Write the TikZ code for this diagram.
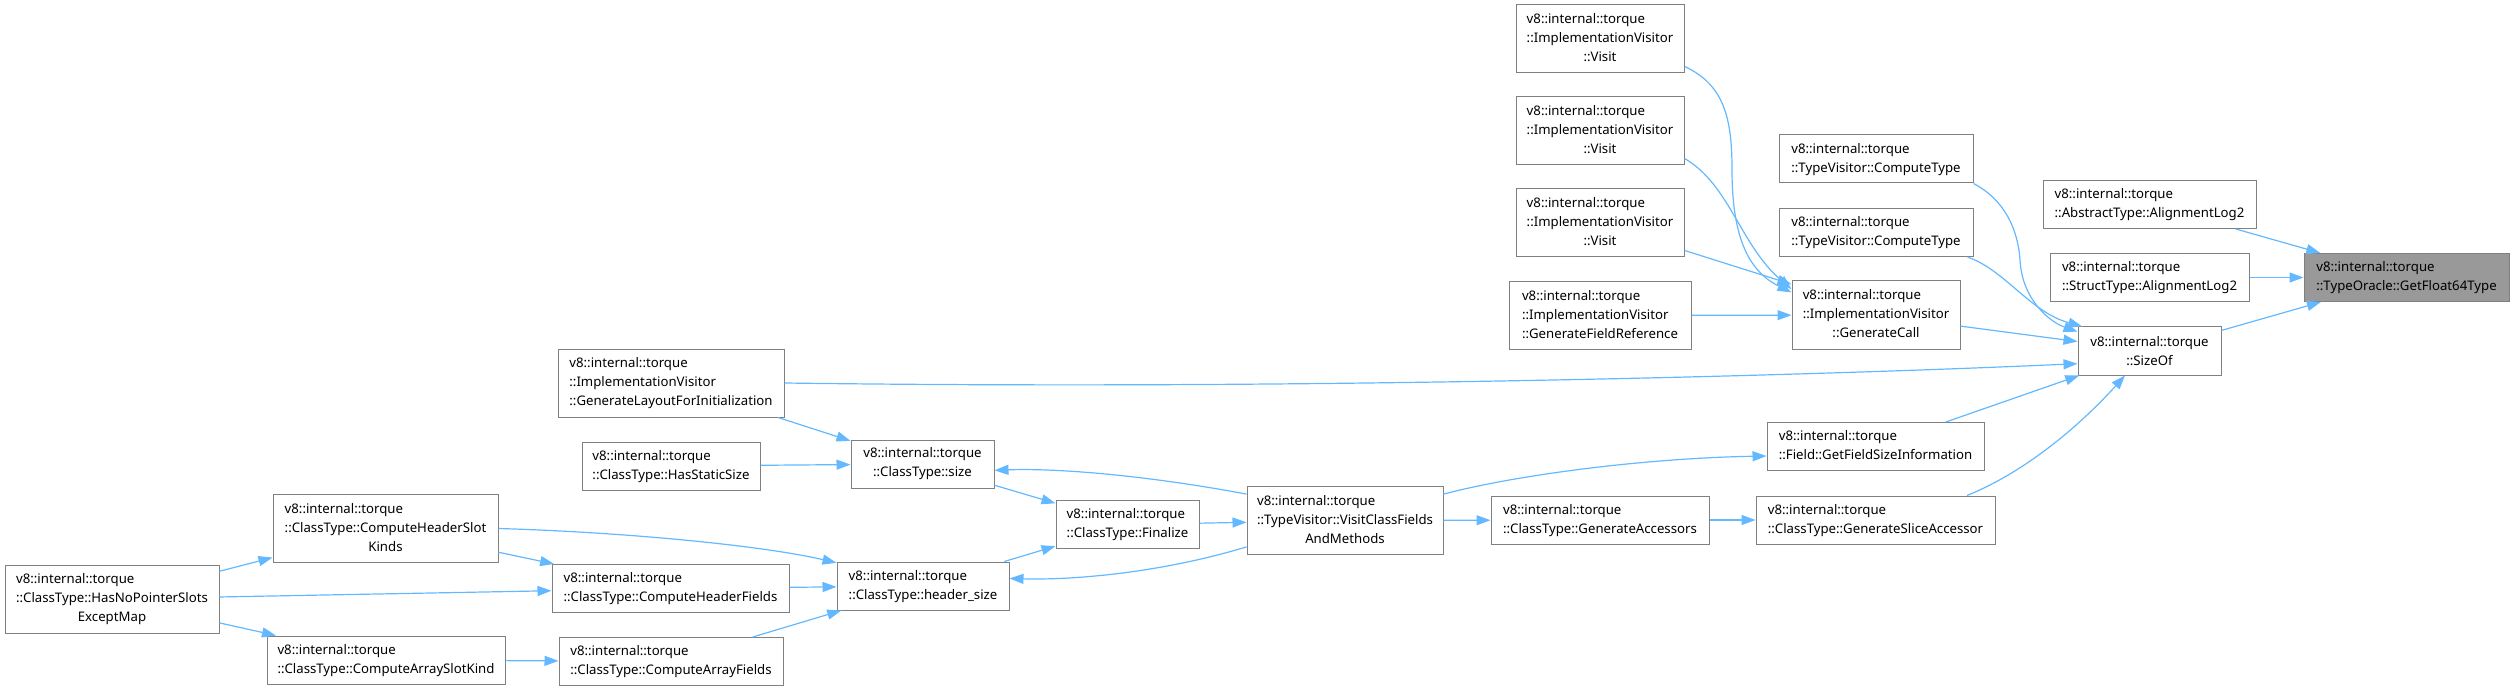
\documentclass[tikz,border=0pt]{standalone}
\usepackage{fontspec}
\setmainfont{Noto Sans}
\usetikzlibrary{arrows.meta}

\definecolor{edgeblue}{HTML}{63B8FF}
\definecolor{boxgray}{HTML}{808080}
\definecolor{rootgray}{HTML}{999999}

\newcommand{\fnbox}[1]{\begin{tabular}{@{}l@{}}#1\end{tabular}}
\newcommand{\midline}[1]{\multicolumn{1}{@{}c@{}}{#1}}

\begin{document}
\begin{tikzpicture}[x=1pt, y=-1pt,
    fn/.style={draw=boxgray, line width=1pt, fill=white, inner sep=0pt,
        minimum height=48pt, font=\fontsize{13.2}{19}\selectfont},
    tall/.style={minimum height=68pt},
    root/.style={fill=rootgray},
    call/.style={draw=edgeblue, line width=1.2pt,
        -{Triangle[length=14pt,width=10pt]}}]
    \useasboundingbox (0,0) rectangle (2515,692);

    % Root and its direct callers
    \node[fn, root, minimum width=205pt] (float64) at (2406.5,277.5)
        {\fnbox{v8::internal::torque\\::TypeOracle::GetFloat64Type}};
    \node[fn, minimum width=213pt] (abslog) at (2149.5,204.5)
        {\fnbox{v8::internal::torque\\::AbstractType::AlignmentLog2}};
    \node[fn, minimum width=199pt] (strlog) at (2149.5,277.5)
        {\fnbox{v8::internal::torque\\::StructType::AlignmentLog2}};
    \node[fn, minimum width=143pt, align=center] (sizeof) at (2149.5,351)
        {v8::internal::torque\\::SizeOf};

    % ImplementationVisitor column
    \node[fn, tall, minimum width=168pt] (visitA) at (1600,39)
        {\fnbox{v8::internal::torque\\::ImplementationVisitor\\\midline{::Visit}}};
    \node[fn, tall, minimum width=168pt] (visitB) at (1600,131)
        {\fnbox{v8::internal::torque\\::ImplementationVisitor\\\midline{::Visit}}};
    \node[fn, tall, minimum width=168pt] (visitC) at (1600,223)
        {\fnbox{v8::internal::torque\\::ImplementationVisitor\\\midline{::Visit}}};
    \node[fn, tall, minimum width=182pt] (fieldref) at (1600,315.5)
        {\fnbox{v8::internal::torque\\::ImplementationVisitor\\::GenerateFieldReference}};
    \node[fn, minimum width=218pt] (genacc) at (1600,520)
        {\fnbox{v8::internal::torque\\::ClassType::GenerateAccessors}};

    % Callers of SizeOf
    \node[fn, minimum width=194pt] (ctypeA) at (1876,159)
        {\fnbox{v8::internal::torque\\::TypeVisitor::ComputeType}};
    \node[fn, minimum width=194pt] (ctypeB) at (1876,232.5)
        {\fnbox{v8::internal::torque\\::TypeVisitor::ComputeType}};
    \node[fn, tall, minimum width=168pt] (gencall) at (1876,315)
        {\fnbox{v8::internal::torque\\::ImplementationVisitor\\\midline{::GenerateCall}}};
    \node[fn, minimum width=217pt] (fieldsize) at (1875.5,446.5)
        {\fnbox{v8::internal::torque\\::Field::GetFieldSizeInformation}};
    \node[fn, minimum width=239pt] (sliceacc) at (1875.5,520)
        {\fnbox{v8::internal::torque\\::ClassType::GenerateSliceAccessor}};

    % ClassType layout
    \node[fn, tall, minimum width=196pt] (visitfields) at (1345,520.5)
        {\fnbox{v8::internal::torque\\::TypeVisitor::VisitClassFields\\\midline{AndMethods}}};
    \node[fn, minimum width=143pt] (finalize) at (1127.5,524.5)
        {\fnbox{v8::internal::torque\\::ClassType::Finalize}};
    \node[fn, minimum width=143pt, align=center] (clssize) at (922.5,464)
        {v8::internal::torque\\::ClassType::size};
    \node[fn, minimum width=172pt] (hdrsize) at (923,586)
        {\fnbox{v8::internal::torque\\::ClassType::header\_size}};
    \node[fn, tall, minimum width=226pt] (genlayout) at (671,383)
        {\fnbox{v8::internal::torque\\::ImplementationVisitor\\::GenerateLayoutForInitialization}};
    \node[fn, minimum width=178pt] (staticsize) at (671,466)
        {\fnbox{v8::internal::torque\\::ClassType::HasStaticSize}};
    \node[fn, minimum width=237pt] (hdrfields) at (670.5,588.5)
        {\fnbox{v8::internal::torque\\::ClassType::ComputeHeaderFields}};
    \node[fn, minimum width=224pt] (arrfields) at (671,661.5)
        {\fnbox{v8::internal::torque\\::ClassType::ComputeArrayFields}};
    \node[fn, tall, minimum width=225pt] (hdrslot) at (385.5,528.5)
        {\fnbox{v8::internal::torque\\::ClassType::ComputeHeaderSlot\\\midline{Kinds}}};
    \node[fn, minimum width=238pt] (arrslot) at (386,660)
        {\fnbox{v8::internal::torque\\::ClassType::ComputeArraySlotKind}};
    \node[fn, tall, minimum width=214pt] (nopointer) at (112,599)
        {\fnbox{v8::internal::torque\\::ClassType::HasNoPointerSlots\\\midline{ExceptMap}}};

    % Edges into the root
    \draw[call] (abslog) -- (float64);
    \draw[call] (strlog) -- (float64);
    \draw[call] (sizeof) -- (float64);

    % Edges into GenerateCall
    \draw[call] (visitA.-18) .. controls (1725,85) and (1732,120) .. (1732,170)
        .. controls (1732,240) and (1750,272) .. (gencall.165);
    \draw[call] (visitB.-18) .. controls (1730,185) and (1740,245) .. (gencall.163);
    \draw[call] (visitC.-18) -- (gencall.160);
    \draw[call] (fieldref) -- (gencall);

    % Edges into SizeOf
    \draw[call] (gencall) -- (sizeof);
    \draw[call] (ctypeA.south east) .. controls (2005,200) and (2018,230) .. (2020,260)
        .. controls (2022,300) and (2050,322) .. (sizeof.165);
    \draw[call] (ctypeB.-15) .. controls (2005,270) and (2030,312) .. (sizeof.160);
    \draw[call] (genlayout.east) .. controls (1300,390) and (1800,376) .. (sizeof.190);
    \draw[call] (fieldsize) -- (sizeof);
    \draw[call] (sliceacc.15) .. controls (2030,470) and (2085,420) .. (sizeof.-135);

    % Accessors chain
    \draw[call] (genacc) -- (sliceacc);
    \draw[call] (visitfields) -- (genacc);
    \draw[call] (visitfields.15) .. controls (1520,474) and (1650,458) .. (fieldsize.185);
    \draw[call] (visitfields.165) .. controls (1150,476) and (1060,468) .. (clssize.-5);
    \draw[call] (visitfields.-165) .. controls (1150,576) and (1060,580) .. (hdrsize.5);
    \draw[call] (finalize) -- (visitfields);
    \draw[call] (clssize) -- (finalize);
    \draw[call] (hdrsize) -- (finalize);

    % Size and header size callers
    \draw[call] (genlayout) -- (clssize);
    \draw[call] (staticsize) -- (clssize);
    \draw[call] (hdrslot.east) .. controls (620,532) and (760,545) .. (hdrsize.165);
    \draw[call] (hdrslot) -- (hdrfields);
    \draw[call] (hdrfields) -- (hdrsize);
    \draw[call] (arrfields) -- (hdrsize);
    \draw[call] (nopointer) -- (hdrslot);
    \draw[call] (nopointer) -- (hdrfields);
    \draw[call] (nopointer) -- (arrslot);
    \draw[call] (arrslot) -- (arrfields);
\end{tikzpicture}
\end{document}
